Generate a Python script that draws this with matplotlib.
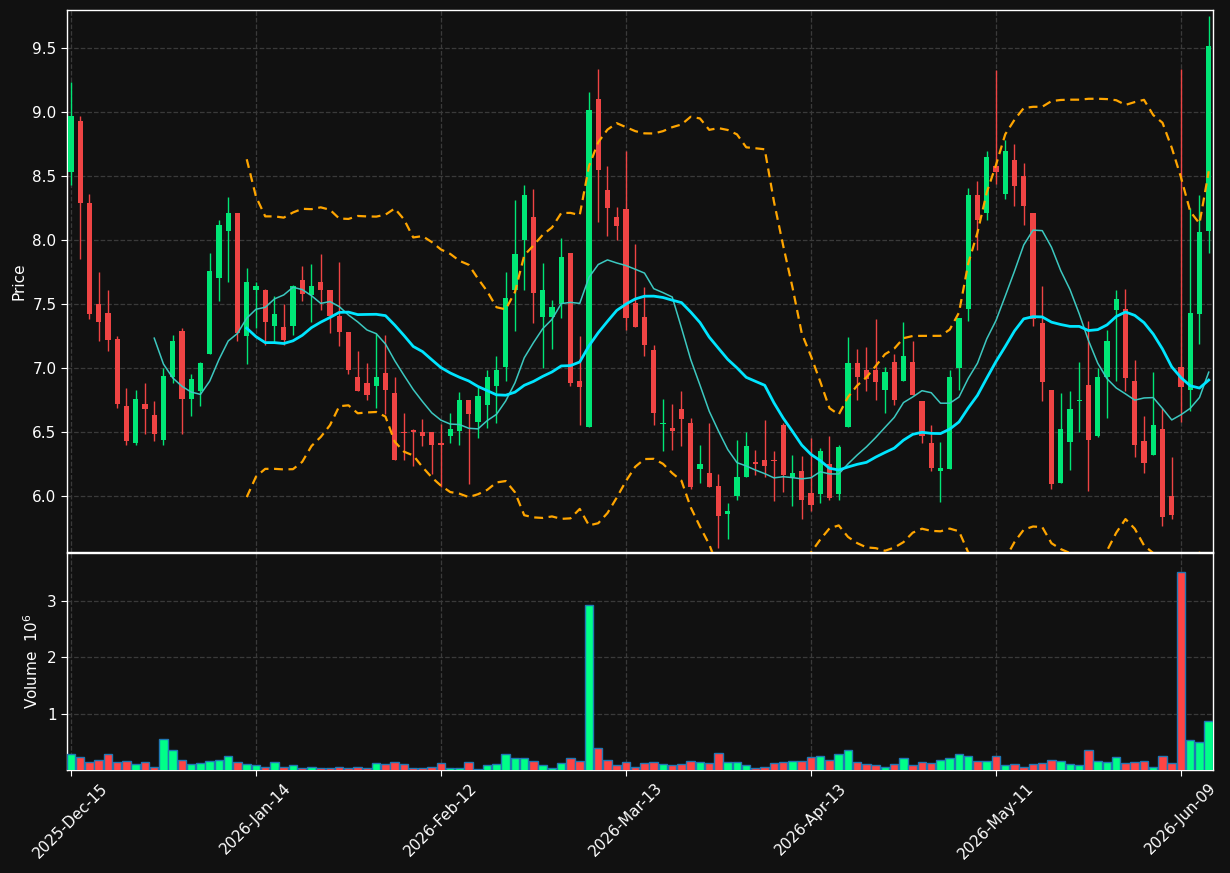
import numpy as np
import pandas as pd
import matplotlib
matplotlib.use("Agg")
import matplotlib.pyplot as plt

holidays = ["2025-12-25", "2026-01-01", "2026-01-19", "2026-02-16", "2026-04-03", "2026-05-25"]
dates = pd.bdate_range("2025-12-15", "2026-06-12", freq="C", holidays=holidays)

opens = [8.53, 8.93, 8.29, 7.50, 7.43, 7.23, 6.70, 6.41, 6.72, 6.63,
         6.44, 6.93, 7.29, 6.76, 6.82, 7.11, 7.70, 8.07, 8.21, 7.25,
         7.61, 7.61, 7.33, 7.32, 7.33, 7.69, 7.57, 7.67, 7.61, 7.41,
         7.28, 6.93, 6.88, 6.86, 6.96, 6.80, 6.50, 6.51, 6.50, 6.50,
         6.41, 6.47, 6.51, 6.75, 6.58, 6.71, 6.86, 7.01, 7.61, 8.00,
         8.18, 7.40, 7.40, 7.50, 7.90, 6.90, 6.54, 9.10, 8.39, 8.18,
         8.24, 7.51, 7.40, 7.14, 6.56, 6.53, 6.68, 6.57, 6.21, 6.18,
         6.08, 5.86, 6.00, 6.15, 6.26, 6.28, 6.28, 6.55, 6.15, 6.19,
         6.02, 6.01, 6.25, 6.01, 6.54, 7.04, 6.98, 6.98, 6.83, 7.05,
         6.90, 7.05, 6.74, 6.41, 6.19, 6.21, 7.00, 7.46, 8.35, 8.21,
         8.58, 8.36, 8.63, 8.50, 8.21, 7.35, 6.83, 6.10, 6.42, 6.74,
         6.87, 6.47, 6.93, 7.45, 7.46, 6.90, 6.43, 6.32, 6.52, 6.00,
         7.01, 6.83, 7.42, 8.07]
highs = [9.24, 8.97, 8.36, 7.75, 7.61, 7.25, 6.84, 6.83, 6.88, 6.74,
         7.00, 7.26, 7.31, 6.95, 7.05, 7.90, 8.16, 8.34, 8.21, 7.78,
         7.67, 7.62, 7.56, 7.50, 7.65, 7.80, 7.81, 7.89, 7.61, 7.83,
         7.28, 7.13, 7.04, 7.27, 7.26, 6.93, 6.65, 6.52, 6.60, 6.50,
         6.56, 6.65, 6.81, 6.75, 6.85, 6.98, 7.09, 7.75, 8.31, 8.43,
         8.40, 7.82, 7.53, 8.02, 7.90, 7.25, 9.16, 9.34, 8.58, 8.26,
         8.70, 7.97, 7.63, 7.18, 6.76, 6.72, 6.82, 6.61, 6.40, 6.57,
         6.17, 5.94, 6.44, 6.50, 6.36, 6.59, 6.35, 6.57, 6.32, 6.31,
         6.45, 6.37, 6.47, 6.40, 7.24, 7.15, 7.16, 7.38, 7.01, 7.11,
         7.36, 7.21, 6.74, 6.55, 6.42, 6.98, 7.39, 8.41, 8.46, 8.70,
         9.33, 8.78, 8.75, 8.60, 8.21, 7.64, 6.83, 6.80, 6.82, 7.05,
         7.37, 7.00, 7.30, 7.61, 7.62, 7.06, 6.62, 6.97, 6.69, 6.30,
         9.34, 8.25, 8.35, 9.75]
lows = [8.43, 7.85, 7.38, 7.21, 7.13, 6.69, 6.40, 6.40, 6.48, 6.43,
        6.40, 6.88, 6.48, 6.62, 6.70, 7.11, 7.52, 7.67, 7.21, 7.03,
        7.31, 7.18, 7.20, 7.18, 7.26, 7.52, 7.36, 7.45, 7.27, 7.17,
        6.95, 6.82, 6.75, 6.69, 6.64, 6.28, 6.28, 6.23, 6.39, 6.17,
        6.07, 6.41, 6.40, 6.09, 6.45, 6.53, 6.57, 6.90, 7.29, 7.61,
        7.35, 7.00, 7.15, 7.39, 6.86, 6.55, 6.54, 8.14, 8.03, 8.00,
        7.30, 7.32, 7.09, 6.55, 6.35, 6.36, 6.39, 6.05, 6.10, 6.07,
        5.59, 5.66, 5.97, 6.15, 6.16, 6.15, 5.96, 6.03, 5.92, 5.82,
        5.88, 5.94, 5.97, 5.97, 6.54, 6.75, 6.82, 6.75, 6.65, 6.71,
        6.90, 6.79, 6.41, 6.19, 5.95, 6.21, 6.83, 7.37, 7.92, 8.16,
        8.44, 8.32, 8.27, 8.12, 7.33, 6.74, 6.05, 6.10, 6.20, 6.50,
        6.04, 6.46, 6.61, 6.90, 6.82, 6.30, 6.18, 6.32, 5.76, 5.82,
        6.58, 6.66, 7.19, 7.90]
closes = [8.97, 8.29, 7.42, 7.36, 7.22, 6.72, 6.43, 6.76, 6.68, 6.48,
          6.94, 7.21, 6.76, 6.91, 7.04, 7.76, 8.12, 8.21, 7.27, 7.67,
          7.64, 7.36, 7.42, 7.22, 7.64, 7.58, 7.64, 7.61, 7.41, 7.28,
          6.98, 6.82, 6.79, 6.93, 6.83, 6.28, 6.49, 6.50, 6.47, 6.40,
          6.40, 6.52, 6.75, 6.64, 6.78, 6.93, 6.98, 7.55, 7.89, 8.35,
          7.59, 7.61, 7.48, 7.87, 6.88, 6.85, 9.02, 8.55, 8.25, 8.11,
          7.39, 7.32, 7.18, 6.65, 6.57, 6.51, 6.60, 6.07, 6.25, 6.07,
          5.84, 5.88, 6.15, 6.39, 6.25, 6.23, 6.27, 6.16, 6.18, 5.97,
          5.93, 6.35, 5.98, 6.38, 7.04, 6.93, 6.91, 6.89, 6.97, 6.75,
          7.09, 6.79, 6.47, 6.22, 6.22, 6.93, 7.39, 8.35, 8.16, 8.65,
          8.53, 8.70, 8.42, 8.27, 7.38, 6.89, 6.09, 6.52, 6.68, 6.75,
          6.44, 6.93, 7.21, 7.54, 6.92, 6.40, 6.26, 6.55, 5.83, 5.85,
          6.85, 7.43, 8.06, 9.52]
volumes = [0.29, 0.24, 0.15, 0.19, 0.29, 0.15, 0.17, 0.115, 0.15, 0.074,
           0.56, 0.36, 0.20, 0.115, 0.13, 0.17, 0.19, 0.27, 0.15, 0.115,
           0.10, 0.074, 0.15, 0.074, 0.10, 0.056, 0.074, 0.056, 0.056, 0.074,
           0.056, 0.074, 0.056, 0.13, 0.115, 0.15, 0.115, 0.056, 0.056, 0.074,
           0.13, 0.056, 0.056, 0.15, 0.04, 0.10, 0.115, 0.29, 0.22, 0.22,
           0.17, 0.10, 0.056, 0.13, 0.22, 0.17, 2.93, 0.40, 0.19, 0.10,
           0.15, 0.074, 0.13, 0.15, 0.115, 0.10, 0.115, 0.17, 0.15, 0.13,
           0.31, 0.15, 0.15, 0.10, 0.056, 0.074, 0.13, 0.15, 0.17, 0.17,
           0.24, 0.27, 0.19, 0.29, 0.36, 0.15, 0.115, 0.10, 0.074, 0.115,
           0.22, 0.10, 0.15, 0.13, 0.20, 0.22, 0.29, 0.27, 0.17, 0.17,
           0.27, 0.10, 0.115, 0.074, 0.115, 0.13, 0.20, 0.17, 0.115, 0.10,
           0.36, 0.17, 0.15, 0.24, 0.13, 0.15, 0.17, 0.074, 0.27, 0.13,
           3.50, 0.54, 0.50, 0.88]

df = pd.DataFrame({"Open": opens, "High": highs, "Low": lows,
                   "Close": closes, "Volume": volumes}, index=dates)

BG = "#111111"
UP, DN = "#00e676", "#ef4444"
VUP, VDN = "#00ff88", "#ff4444"
GRID = "#3a3a3a"

x = np.arange(len(df))
o = df["Open"].values
c = df["Close"].values
h = df["High"].values
l = df["Low"].values
up = c >= o
ccol = np.where(up, UP, DN)
vcol = np.where(up, VUP, VDN)

mav10 = df["Close"].rolling(10).mean()
mav20 = df["Close"].rolling(20).mean()
std20 = df["Close"].rolling(20).std(ddof=0)
bb_up = mav20 + 2 * std20
bb_lo = mav20 - 2 * std20

fig = plt.figure(figsize=(12.3, 8.73), dpi=100, facecolor=BG)
left, right = 67 / 1230, 1213 / 1230
ax = fig.add_axes([left, 1 - 552 / 873, right - left, 542 / 873], facecolor=BG)
axv = fig.add_axes([left, 1 - 770 / 873, right - left, 217 / 873], facecolor=BG, sharex=ax)

# candles
ax.vlines(x, l, h, colors=ccol, linewidth=1.0, zorder=3)
body_b = np.minimum(o, c)
body_h = np.maximum(np.abs(c - o), 0.012)
ax.bar(x, body_h, bottom=body_b, width=0.55, color=ccol, linewidth=0, zorder=4)

ax.plot(x, mav10, color="#3cc8c0", linewidth=1.1, zorder=5)
ax.plot(x, mav20, color="#00e5ff", linewidth=2.0, zorder=5)
ax.plot(x, bb_up, color="#ffa500", linewidth=1.6, linestyle=(0, (4, 2.5)), zorder=5)
ax.plot(x, bb_lo, color="#ffa500", linewidth=1.6, linestyle=(0, (4, 2.5)), zorder=5)

axv.bar(x, df["Volume"].values, width=0.92, color=vcol, edgecolor="#1f77b4",
        linewidth=1.0, zorder=3)

ax.set_xlim(-0.43, 123.46)
ax.set_ylim(5.56, 9.80)
axv.set_ylim(0.015, 3.84)

ax.set_yticks([6.0, 6.5, 7.0, 7.5, 8.0, 8.5, 9.0, 9.5])
ax.set_yticklabels([f"{v:.1f}" for v in [6.0, 6.5, 7.0, 7.5, 8.0, 8.5, 9.0, 9.5]])
axv.set_yticks([1, 2, 3])

tick_idx = list(range(0, len(df), 20))
axv.set_xticks(tick_idx)
axv.set_xticklabels([dates[i].strftime("%Y-%b-%d") for i in tick_idx],
                    rotation=45, ha="center")
plt.setp(ax.get_xticklabels(), visible=False)

for a in (ax, axv):
    a.grid(True, color=GRID, linestyle="--", linewidth=0.9)
    a.set_axisbelow(True)
    for s in a.spines.values():
        s.set_color("white")
        s.set_linewidth(1.0)
    a.tick_params(colors="white", labelsize=11, length=4)
ax.tick_params(axis="x", length=0)

ax.set_ylabel("Price", color="white", fontsize=11)
axv.set_ylabel("Volume  $10^{6}$", color="white", fontsize=11)

fig.savefig("out.png", dpi=100, facecolor=BG)
